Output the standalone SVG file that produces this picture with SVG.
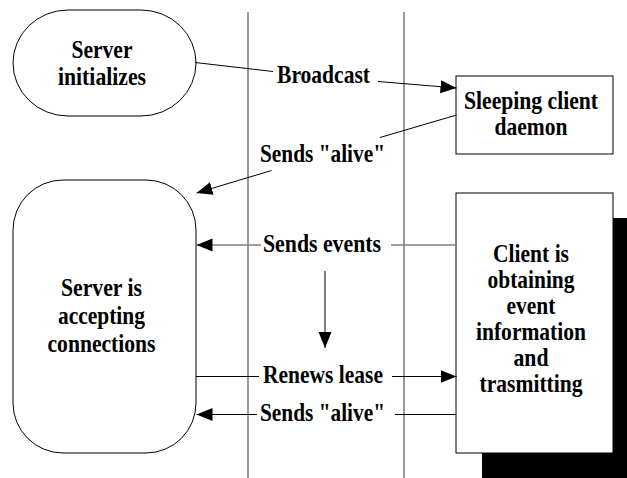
<svg xmlns="http://www.w3.org/2000/svg" width="627" height="478" viewBox="0 0 627 478">
<style>
.t{font-family:"Liberation Serif","Times New Roman",serif;font-weight:bold;font-size:25px;fill:#000;text-anchor:middle}
.shape{fill:#fff;stroke:#000;stroke-width:1}
.lane{stroke:#555;stroke-width:1.2;fill:none}
.c{stroke:#000;stroke-width:1;fill:none}
.cg{stroke:#808080;stroke-width:1.4;fill:none}
</style>
<defs>
<marker id="ah" markerUnits="userSpaceOnUse" markerWidth="17" markerHeight="14" refX="16" refY="6.5" orient="auto">
<path d="M0,0 L16,6.5 L0,13 Z" fill="#000"/>
</marker>
</defs>
<rect width="627" height="478" fill="#fff"/>
<g id="lanes">
<line class="lane" x1="248" y1="12" x2="248" y2="478"/>
<line class="lane" x1="404" y1="12" x2="404" y2="478"/>
</g>
<g id="server-initializes">
<rect class="shape" x="13" y="10" width="183" height="106" rx="55" ry="53"/>
<text class="t" x="102" y="58" textLength="61" lengthAdjust="spacingAndGlyphs">Server</text>
<text class="t" x="102" y="85" textLength="88" lengthAdjust="spacingAndGlyphs">initializes</text>
</g>
<g id="sleeping-client">
<rect class="shape" x="456" y="76" width="157" height="78"/>
<text class="t" x="531" y="109" textLength="134" lengthAdjust="spacingAndGlyphs">Sleeping client</text>
<text class="t" x="531" y="135" textLength="73" lengthAdjust="spacingAndGlyphs">daemon</text>
</g>
<g id="server-accepting">
<rect class="shape" x="13" y="180" width="183" height="273" rx="50" ry="50"/>
<text class="t" x="101.5" y="296" textLength="81" lengthAdjust="spacingAndGlyphs">Server is</text>
<text class="t" x="101.5" y="324" textLength="87" lengthAdjust="spacingAndGlyphs">accepting</text>
<text class="t" x="101.5" y="352" textLength="108" lengthAdjust="spacingAndGlyphs">connections</text>
</g>
<g id="client-obtaining">
<rect x="482" y="218" width="157" height="260" fill="#000"/>
<rect class="shape" x="456" y="193" width="157" height="260"/>
<text class="t" x="531" y="262" textLength="76" lengthAdjust="spacingAndGlyphs">Client is</text>
<text class="t" x="531" y="288" textLength="87" lengthAdjust="spacingAndGlyphs">obtaining</text>
<text class="t" x="531" y="314" textLength="49" lengthAdjust="spacingAndGlyphs">event</text>
<text class="t" x="531" y="340" textLength="110" lengthAdjust="spacingAndGlyphs">information</text>
<text class="t" x="531" y="366" textLength="35" lengthAdjust="spacingAndGlyphs">and</text>
<text class="t" x="531" y="392" textLength="103" lengthAdjust="spacingAndGlyphs">trasmitting</text>
</g>
<g id="connectors">
<line class="c" x1="195" y1="62.5" x2="273" y2="71.5"/>
<line class="c" x1="378" y1="81.5" x2="456.5" y2="88" marker-end="url(#ah)"/>
<text class="t" x="323.5" y="83" textLength="93" lengthAdjust="spacingAndGlyphs">Broadcast</text>
<line class="c" x1="456.5" y1="115" x2="380" y2="137.5"/>
<line class="c" x1="271.5" y1="170.5" x2="196.5" y2="193" marker-end="url(#ah)"/>
<text class="t" x="322.5" y="162" textLength="125" lengthAdjust="spacingAndGlyphs">Sends "alive"</text>
<line class="cg" x1="456" y1="245" x2="391" y2="245"/>
<line class="cg" x1="261" y1="245" x2="196.5" y2="245" marker-end="url(#ah)"/>
<text class="t" x="322" y="252" textLength="118" lengthAdjust="spacingAndGlyphs">Sends events</text>
<line class="c" x1="325" y1="271" x2="325" y2="348" marker-end="url(#ah)"/>
<line class="c" x1="196" y1="376.5" x2="259" y2="376.5"/>
<line class="c" x1="392" y1="376.5" x2="456.5" y2="376.5" marker-end="url(#ah)"/>
<text class="t" x="323" y="383" textLength="120" lengthAdjust="spacingAndGlyphs">Renews lease</text>
<line class="c" x1="456" y1="414.5" x2="395" y2="414.5"/>
<line class="c" x1="257" y1="414.5" x2="196.5" y2="414.5" marker-end="url(#ah)"/>
<text class="t" x="322.5" y="421" textLength="125" lengthAdjust="spacingAndGlyphs">Sends "alive"</text>
</g>
</svg>
